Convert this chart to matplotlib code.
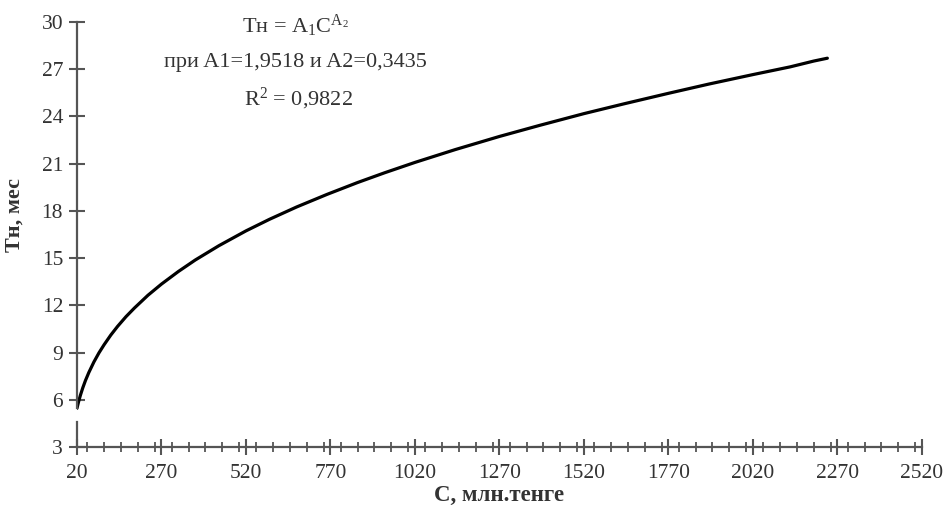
import matplotlib.pyplot as plt
import numpy as np
from matplotlib.ticker import MultipleLocator

plt.rcParams['font.family'] = ['Liberation Serif', 'DejaVu Serif']
plt.rcParams['mathtext.fontset'] = 'custom'
plt.rcParams['mathtext.rm'] = 'Liberation Serif'
plt.rcParams['mathtext.it'] = 'Liberation Serif:italic'

# values
cost = [20, 22, 25, 30, 37, 45, 55, 70, 85, 100, 120, 140, 165, 190, 230, 270,
        320, 370, 440, 520, 590, 670, 760, 850, 930, 1020, 1140, 1270, 1390,
        1520, 1640, 1770, 1890, 2020, 2130, 2200, 2240]
t_norm = [5.46, 5.64, 5.90, 6.28, 6.75, 7.22, 7.73, 8.40, 8.98, 9.49, 10.11,
          10.66, 11.28, 11.83, 12.64, 13.35, 14.15, 14.88, 15.79, 16.73, 17.47,
          18.25, 19.05, 19.80, 20.42, 21.08, 21.90, 22.73, 23.44, 24.18, 24.81,
          25.47, 26.06, 26.66, 27.15, 27.52, 27.70]

x_ticks = np.arange(20, 2521, 250)
y_ticks = np.arange(3, 31, 3)

axis_col = '#555555'
text_col = '#333333'

fig = plt.figure(figsize=(9.47, 5.24), dpi=100)
ax = fig.add_axes([0.0813, 0.147, 0.8923, 0.811])

ax.plot(cost, t_norm, color='black', lw=2.3, solid_capstyle='round',
        solid_joinstyle='round')

ax.set_xlim(20, 2520)
ax.set_ylim(3, 30)
ax.set_xticks(x_ticks)
ax.set_yticks(y_ticks)
ax.xaxis.set_minor_locator(MultipleLocator(50))

for s in ['top', 'right']:
  ax.spines[s].set_visible(False)
for s in ['left', 'bottom']:
  ax.spines[s].set_color(axis_col)
  ax.spines[s].set_linewidth(1.6)
# the y axis is broken just above the origin in the original
ax.spines['left'].set_bounds(5.5, 30)
ax.axvline(20, ymin=0, ymax=1.6 / 27, color=axis_col, lw=1.6, clip_on=False)

ax.tick_params(axis='both', which='major', direction='inout', length=12,
               width=1.5, color=axis_col, labelsize=15.5, labelcolor=text_col)
ax.tick_params(axis='x', which='minor', direction='inout', length=7,
               width=1.3, color=axis_col)
ax.tick_params(axis='x', which='major', pad=6)
ax.tick_params(axis='y', which='major', pad=4)

ax.set_xlabel('С, млн.тенге', fontsize=16.5, fontweight='bold', color=text_col, labelpad=2)
ax.set_ylabel('Тн, мес', fontsize=16, fontweight='bold', color=text_col)
ax.yaxis.set_label_coords(-0.062, 0.545)

ax.text(0.258, 0.99, r'Тн = A$_1$C$^{\mathrm{A}_2}$', transform=ax.transAxes,
        ha='center', va='center', fontsize=16, color=text_col)
ax.text(0.258, 0.905, 'при A1=1,9518 и A2=0,3435', transform=ax.transAxes,
        ha='center', va='center', fontsize=16, color=text_col)
ax.text(0.262, 0.82, r'R$^2$ = 0,9822', transform=ax.transAxes,
        ha='center', va='center', fontsize=16, color=text_col)

fig.savefig('out.png', dpi=100)
